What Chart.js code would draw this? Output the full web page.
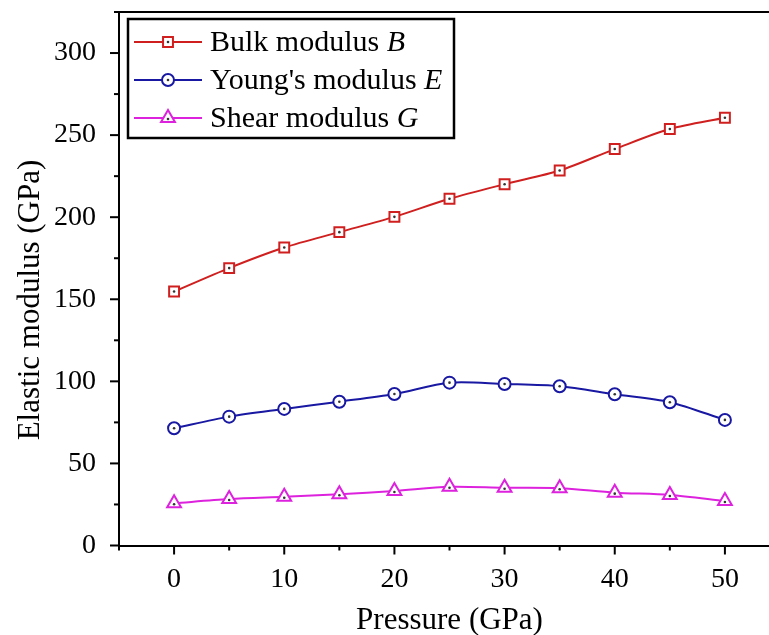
<!DOCTYPE html>
<html>
<head>
<meta charset="utf-8">
<script src="https://cdn.jsdelivr.net/npm/chart.js@4"></script>
<style>
html,body{margin:0;padding:0;background:#fff;overflow:hidden;width:769px;height:635px;}
#wrap{width:790px;height:635px;}
</style>
</head>
<body>
<div id="wrap"><canvas id="c" width="790" height="635"></canvas></div>
<script>
const pressure = [0, 5, 10, 15, 20, 25, 30, 35, 40, 45, 50];
const bulkB = [154.7, 169.0, 181.5, 190.9, 200.2, 211.2, 220.1, 228.4, 241.5, 253.7, 260.6];
const youngE = [71.4, 78.5, 83.2, 87.6, 92.3, 99.2, 98.4, 97.0, 92.1, 87.3, 76.5];
const shearG = [25.7, 28.3, 29.7, 31.2, 33.2, 35.8, 35.2, 34.9, 32.2, 30.8, 27.1];
const seriesNames = [["Bulk modulus ", "B"], ["Young's modulus ", "E"], ["Shear modulus ", "G"]];
const xTickLabels = [0, 10, 20, 30, 40, 50];
const yTickLabels = [0, 50, 100, 150, 200, 250, 300];
const xTitle = 'Pressure (GPa)';
const yTitle = 'Elastic modulus (GPa)';

const colors = ['#d01f1f', '#1818a3', '#dd22dd'];
const styles = ['rect', 'circle', 'triangle'];
const radii = [7, 6, 8];
const SERIF = '"Liberation Serif", "Times New Roman", serif';

function mk(i, vals) {
  return {
    label: seriesNames[i].join(''),
    data: pressure.map((p, k) => ({x: p, y: vals[k]})),
    borderColor: colors[i],
    borderWidth: 2,
    backgroundColor: colors[i],
    pointStyle: styles[i],
    pointRadius: radii[i],
    pointBorderWidth: 2,
    pointBackgroundColor: '#ffffff',
    pointBorderColor: colors[i],
    tension: 0.3,
    fill: false
  };
}

const decor = {
  id: 'decor',
  afterDatasetsDraw(chart) {
    const ctx = chart.ctx;
    chart.data.datasets.forEach((ds, i) => {
      const meta = chart.getDatasetMeta(i);
      ctx.save();
      ctx.fillStyle = '#333';
      meta.data.forEach(pt => {
        ctx.beginPath();
        ctx.arc(pt.x, pt.y + (i === 2 ? 1 : 0), 1.3, 0, Math.PI * 2);
        ctx.fill();
      });
      ctx.restore();
    });
  },
  afterDraw(chart) {
    const ctx = chart.ctx;
    const a = chart.chartArea;
    const xs = chart.scales.x, ys = chart.scales.y;
    ctx.save();
    ctx.strokeStyle = '#000';
    ctx.lineWidth = 2;
    ctx.beginPath();
    ctx.moveTo(a.left - 1, a.top);
    ctx.lineTo(a.right + 1, a.top);
    ctx.stroke();
    for (let v = -5; v <= 55; v += 5) {
      const px = xs.getPixelForValue(v);
      const len = (v % 10 === 0) ? 9 : 5;
      ctx.beginPath();
      ctx.moveTo(px, a.bottom);
      ctx.lineTo(px, a.bottom + len);
      ctx.stroke();
    }
    for (let v = 0; v <= 325; v += 25) {
      const py = ys.getPixelForValue(v);
      const len = (v % 50 === 0) ? 9 : 5;
      ctx.beginPath();
      ctx.moveTo(a.left, py);
      ctx.lineTo(a.left - len, py);
      ctx.stroke();
    }
    ctx.fillStyle = '#000';
    ctx.textAlign = 'center';
    ctx.textBaseline = 'middle';
    ctx.font = '31px ' + SERIF;
    ctx.fillText(xTitle, (a.left + a.right) / 2, 621);
    ctx.save();
    ctx.translate(31, 300);
    ctx.rotate(-Math.PI / 2);
    ctx.fillText(yTitle, 0, 0);
    ctx.restore();
    const bx = 128, by = 19, bw = 326, bh = 119;
    ctx.strokeStyle = '#000';
    ctx.lineWidth = 2.5;
    ctx.strokeRect(bx, by, bw, bh);
    const rowY = [42, 80, 118];
    chart.data.datasets.forEach((ds, i) => {
      const y = rowY[i];
      ctx.strokeStyle = colors[i];
      ctx.lineWidth = 2;
      ctx.beginPath();
      ctx.moveTo(134, y);
      ctx.lineTo(202, y);
      ctx.stroke();
      ctx.fillStyle = '#fff';
      Chart.helpers.drawPoint(ctx, {pointStyle: styles[i], radius: radii[i], rotation: 0, borderWidth: 2}, 168, y);
      ctx.fillStyle = '#333';
      ctx.beginPath();
      ctx.arc(168, y + (i === 2 ? 1 : 0), 1.3, 0, Math.PI * 2);
      ctx.fill();
      ctx.fillStyle = '#000';
      ctx.textBaseline = 'middle';
      ctx.textAlign = 'left';
      ctx.font = '30px ' + SERIF;
      const t = seriesNames[i][0];
      ctx.fillText(t, 210, y + 1);
      const w = ctx.measureText(t).width;
      ctx.font = 'italic 30px ' + SERIF;
      ctx.fillText(seriesNames[i][1], 210 + w, y + 1);
    });
    ctx.restore();
  }
};

new Chart(document.getElementById('c'), {
  type: 'line',
  data: {datasets: [mk(0, bulkB), mk(1, youngE), mk(2, shearG)]},
  options: {
    responsive: false,
    animation: false,
    layout: {padding: {left: 0, top: 12, right: 10, bottom: 0}},
    plugins: {legend: {display: false}, tooltip: {enabled: false}},
    scales: {
      x: {
        type: 'linear', min: -5, max: 55,
        grid: {display: false},
        border: {display: true, color: '#000', width: 2},
        ticks: {
          stepSize: 5, autoSkip: false, maxRotation: 0,
          color: '#000', padding: 9,
          font: {family: SERIF, size: 28},
          callback: v => xTickLabels.includes(v) ? String(v) : ''
        },
        afterFit: s => { s.height = 89.5; s.paddingLeft = 0; s.paddingRight = 0; }
      },
      y: {
        type: 'linear', min: 0, max: 325,
        grid: {display: false},
        border: {display: true, color: '#000', width: 2},
        ticks: {
          stepSize: 25, autoSkip: false,
          color: '#000', padding: 15,
          font: {family: SERIF, size: 28},
          callback: v => yTickLabels.includes(v) ? String(v) : ''
        },
        afterFit: s => { s.width = 119; s.paddingTop = 0; s.paddingBottom = 0; }
      }
    }
  },
  plugins: [decor]
});
</script>
</body>
</html>
